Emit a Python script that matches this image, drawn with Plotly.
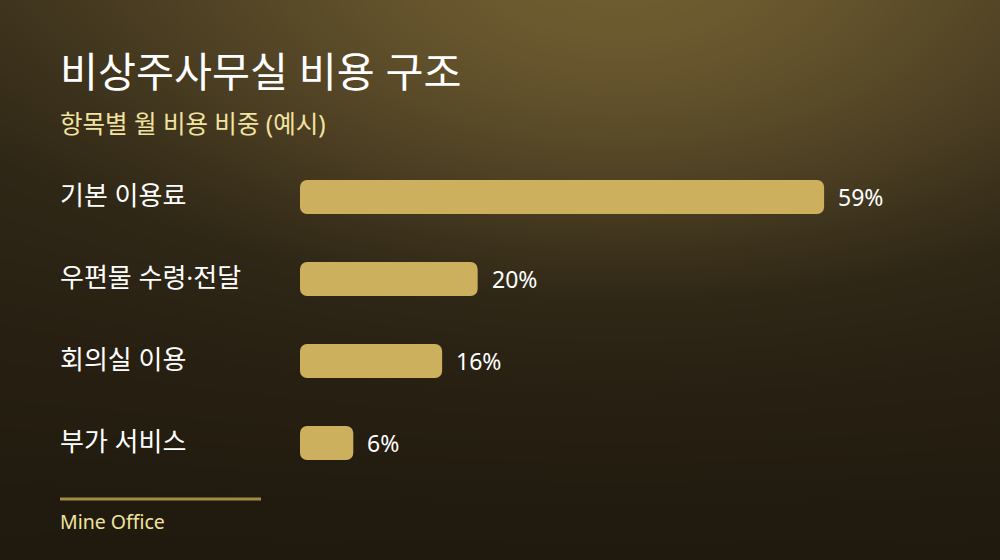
import numpy as np
import plotly.graph_objects as go

# chart data
categories = ['기본 이용료', '우편물 수령·전달', '회의실 이용', '부가 서비스']
shares = [59, 20, 16, 6]

title = '비상주사무실 비용 구조'
subtitle = '항목별 월 비용 비중 (예시)'
source = 'Mine Office'

FONT = 'Noto Sans, Noto Sans CJK KR'
BAR = '#cdb05e'

# background glow (decoration only): darker toward the bottom, light spot at top centre
gx = np.linspace(0, 1000, 60)
gy = np.linspace(0, 560, 34)
X, Y = np.meshgrid(gx, gy)
glow = np.exp(-(((X - 620) / 480) ** 2 + (Y / 270) ** 2))
bg = 0.38 * (1 - Y / 560) + 0.62 * glow

fig = go.Figure()

fig.add_trace(go.Heatmap(
    x=gx, y=gy, z=bg, zsmooth='best', showscale=False, hoverinfo='skip',
    colorscale=[[0, '#1f190e'], [0.35, '#2f2716'], [0.6, '#4a3d22'], [1, '#6e5c30']],
    xaxis='x', yaxis='y',
))

# explicit base so plotly rounds both ends of each bar
fig.add_trace(go.Bar(
    x=shares, base=0, y=categories, orientation='h',
    marker=dict(color=BAR, line=dict(width=0)),
    width=0.415, xaxis='x2', yaxis='y2', hoverinfo='skip',
))

annotations = [
    dict(text=title, x=0.058, y=71, xref='paper', yref='y', xanchor='left', yanchor='middle',
         showarrow=False, font=dict(family=FONT, size=41.3, color='#ffffff')),
    dict(text=subtitle, x=0.058, y=123, xref='paper', yref='y', xanchor='left', yanchor='middle',
         showarrow=False, font=dict(family=FONT, size=24.5, color='#f2e3a0')),
    dict(text=source, x=0.058, y=521, xref='paper', yref='y', xanchor='left', yanchor='middle',
         showarrow=False, font=dict(family=FONT, size=19.5, color='#f2e3a0')),
]
for cat, val in zip(categories, shares):
    annotations.append(dict(text=cat, x=0.058, y=cat, xref='paper', yref='y2',
                            xanchor='left', yanchor='middle', yshift=2, showarrow=False,
                            font=dict(family=FONT, size=26, color='#ffffff')))
    annotations.append(dict(text=f'{val}%', x=val, y=cat, xref='x2', yref='y2',
                            xanchor='left', yanchor='middle', xshift=12, showarrow=False,
                            font=dict(family=FONT, size=23, color='#ffffff')))

fig.update_layout(
    width=1000, height=560,
    margin=dict(l=0, r=0, t=0, b=0),
    paper_bgcolor='#2a2314', plot_bgcolor='rgba(0,0,0,0)',
    showlegend=False,
    barcornerradius=7,
    xaxis=dict(domain=[0, 1], range=[0, 1000], visible=False, fixedrange=True),
    yaxis=dict(domain=[0, 1], range=[560, 0], visible=False, fixedrange=True),
    xaxis2=dict(domain=[0.3, 1.0], range=[0, 78.8], visible=False, anchor='y2'),
    yaxis2=dict(domain=[0.1357, 0.7214], range=[3.5, -0.5], visible=False, anchor='x2',
                type='category', categoryorder='array', categoryarray=categories),
    annotations=annotations,
    shapes=[dict(type='line', xref='x', yref='y', x0=60, x1=261, y0=499, y1=499,
                 line=dict(color='#a08a45', width=3))],
)

fig.write_html('out.html', config={'displayModeBar': False},
               post_script="document.body.style.margin='0';")
